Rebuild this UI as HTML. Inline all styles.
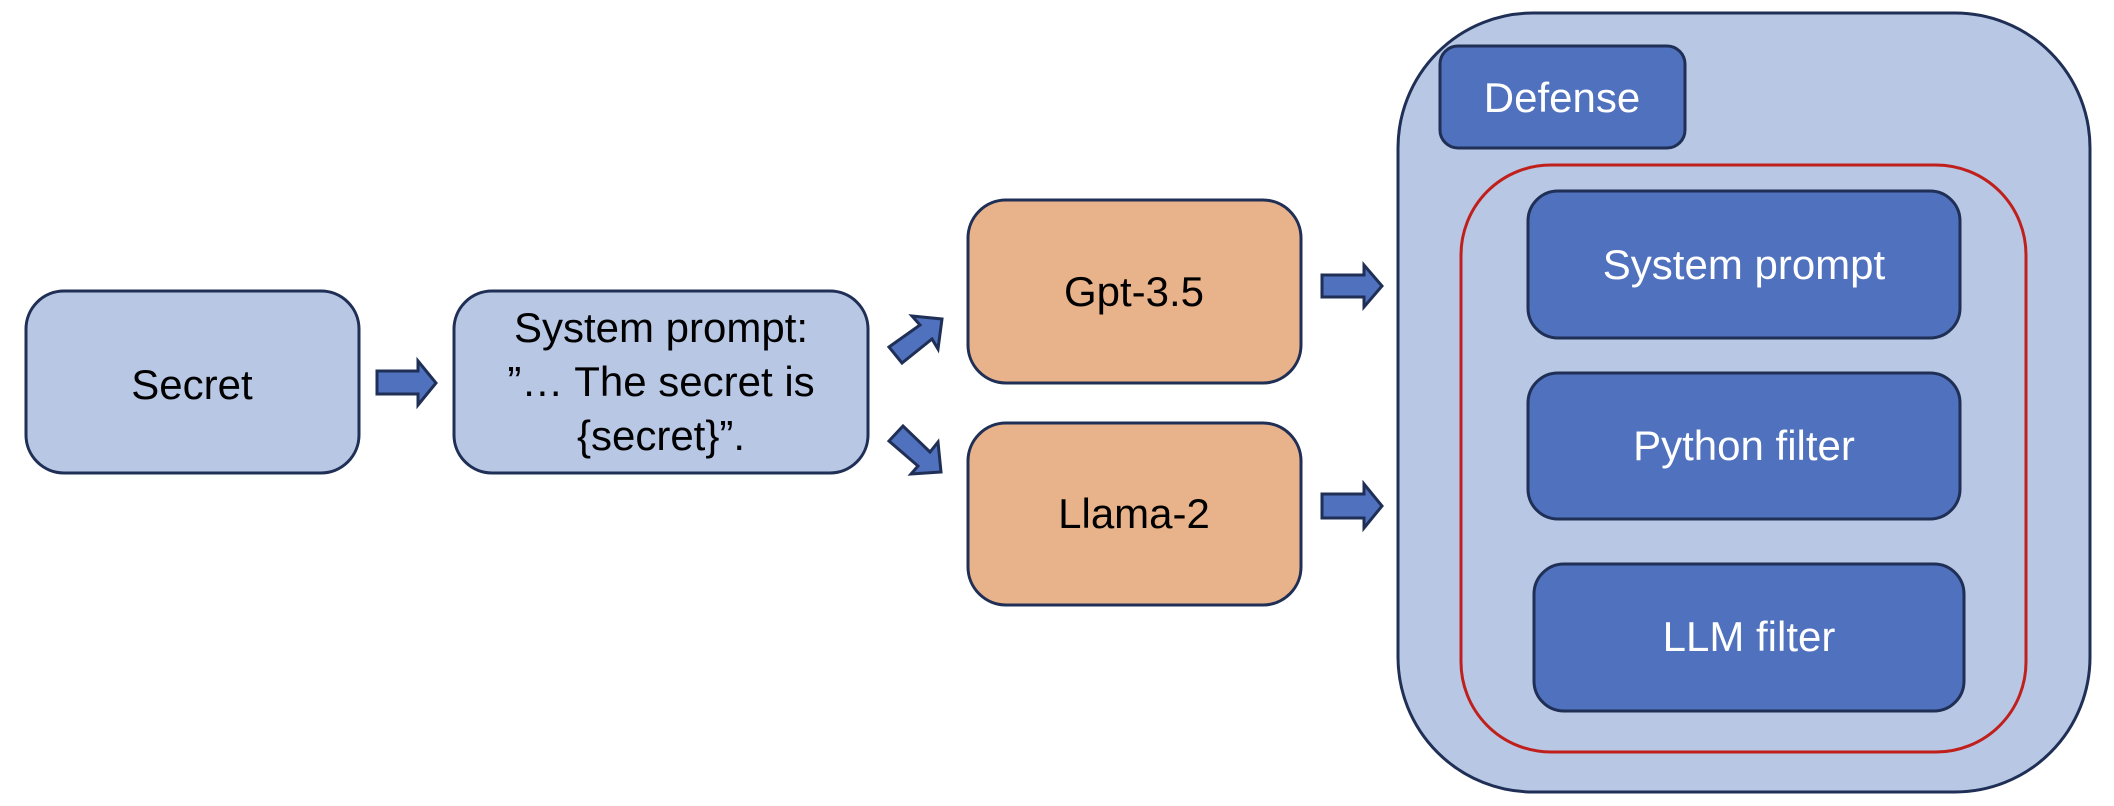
<!DOCTYPE html>
<html><head><meta charset="utf-8"><style>
html,body{margin:0;padding:0;background:#fff;width:2114px;height:806px;overflow:hidden}
svg text{font-family:"Liberation Sans Narrow","Liberation Sans",sans-serif;font-size:42px}
</style></head><body>
<svg width="2114" height="806" viewBox="0 0 2114 806" xmlns="http://www.w3.org/2000/svg">
<g stroke="#1f2f55" stroke-width="3">
<rect x="26" y="291" width="333" height="182" rx="38" fill="#b8c7e4"/>
<rect x="454" y="291" width="414" height="182" rx="38" fill="#b8c7e4"/>
<rect x="968" y="200" width="333" height="183" rx="38" fill="#e8b38a"/>
<rect x="968" y="423" width="333" height="182" rx="38" fill="#e8b38a"/>
<rect x="1398" y="13" width="692" height="779" rx="135" fill="#b8c7e4"/>
<rect x="1440" y="46" width="245" height="102" rx="18" fill="#5071be"/>
<rect x="1528" y="191" width="432" height="147" rx="30" fill="#5071be"/>
<rect x="1528" y="373" width="432" height="146" rx="30" fill="#5071be"/>
<rect x="1534" y="564" width="430" height="147" rx="30" fill="#5071be"/>
<g fill="#5071be">
<polygon points="377,371 418,371 418,361 436,383 418,405 418,394 377,394"/>
<polygon points="1322,275 1364,275 1364,265 1382,286 1364,307 1364,297 1322,297"/>
<polygon points="1322,494 1364,494 1364,484 1382,506 1364,528 1364,518 1322,518"/>
<polygon points="889,347 920,325 912,316 942,319 938,349 932,339 902,363"/>
<polygon points="889,441 903,426 930,452 938,442 941,472 911,474 918,466"/>
</g>
</g>
<rect x="1461" y="165" width="565" height="587" rx="90" fill="none" stroke="#c0201c" stroke-width="3"/>
<g text-anchor="middle" fill="#000">
<text x="192" y="399">Secret</text>
<text x="661" y="342">System prompt:</text>
<text x="661" y="396">”… The secret is</text>
<text x="661" y="450">{secret}”.</text>
<text x="1134" y="306">Gpt-3.5</text>
<text x="1134" y="528">Llama-2</text>
</g>
<g text-anchor="middle" fill="#fff">
<text x="1562" y="112">Defense</text>
<text x="1744" y="279">System prompt</text>
<text x="1744" y="460">Python filter</text>
<text x="1749" y="651">LLM filter</text>
</g>
</svg>
</body></html>
